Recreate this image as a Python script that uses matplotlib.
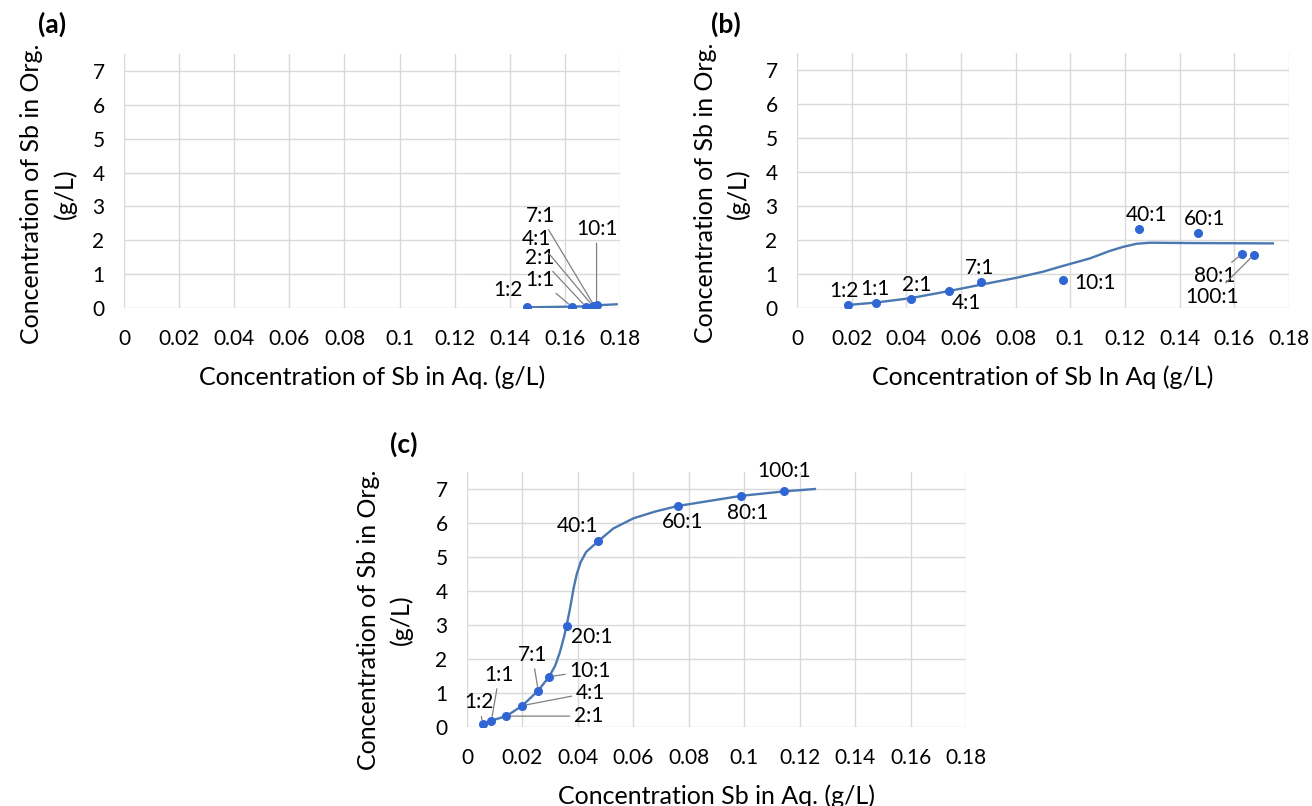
import matplotlib.pyplot as plt
from matplotlib.ticker import FuncFormatter, MultipleLocator

plt.rcParams['font.family'] = ['Lato', 'DejaVu Sans']

# ---- data ----
# (a)
ratios_a = ['1:2', '1:1', '2:1', '4:1', '7:1', '10:1']
aq_a = [0.1463, 0.1625, 0.1676, 0.1701, 0.1706, 0.1715]
org_a = [0.02, 0.04, 0.04, 0.06, 0.07, 0.09]
fit_aq_a = [0.1463, 0.1625, 0.1676, 0.1715, 0.1788]
fit_org_a = [0.02, 0.04, 0.05, 0.08, 0.11]

# (b)
ratios_b = ['1:2', '1:1', '2:1', '4:1', '7:1', '10:1', '40:1', '60:1', '80:1', '100:1']
aq_b = [0.0186, 0.0289, 0.0416, 0.0557, 0.0673, 0.0974, 0.1252, 0.1466, 0.1629, 0.1672]
org_b = [0.09, 0.14, 0.27, 0.50, 0.77, 0.82, 2.31, 2.20, 1.59, 1.57]
fit_aq_b = [0.0188, 0.0289, 0.0416, 0.0557, 0.0682, 0.0804, 0.0901, 0.0974, 0.1072,
            0.1145, 0.1194, 0.1243, 0.1292, 0.1438, 0.1741]
fit_org_b = [0.09, 0.16, 0.29, 0.50, 0.70, 0.89, 1.07, 1.24, 1.46,
             1.68, 1.80, 1.89, 1.92, 1.91, 1.90]

# (c)
ratios_c = ['1:2', '1:1', '2:1', '4:1', '7:1', '10:1', '20:1', '40:1', '60:1', '80:1', '100:1']
aq_c = [0.0057, 0.0088, 0.0142, 0.0200, 0.0257, 0.0296, 0.0359, 0.0474, 0.0760, 0.0990, 0.1144]
org_c = [0.08, 0.19, 0.32, 0.63, 1.07, 1.48, 2.97, 5.47, 6.50, 6.80, 6.93]
fit_aq_c = [0.0057, 0.0088, 0.0142, 0.0200, 0.0257, 0.0296, 0.0318, 0.0335, 0.0350, 0.0359,
            0.0372, 0.0385, 0.0396, 0.0410, 0.0430, 0.0474, 0.0528, 0.0601, 0.0680,
            0.0760, 0.0990, 0.1144, 0.1255]
fit_org_c = [0.08, 0.19, 0.32, 0.63, 1.07, 1.48, 1.80, 2.20, 2.65, 2.97,
             3.50, 4.10, 4.50, 4.85, 5.15, 5.47, 5.84, 6.14, 6.34,
             6.50, 6.80, 6.93, 7.00]

# label placement (pixel offsets from the point, leader line yes/no)
place_a = [(-19, 17, False), (-32, 27, True), (-46, 49, True), (-56, 67, True),
           (-54, 90, True), (0, 76, True)]
place_b = [(-4, 14, False), (-1, 14, False), (6, 14, False), (17, -12, False),
           (-1, 14, False), (32, -3, False), (7, 14, False), (7, 14, False),
           (-28, -22, True), (-42, -42, True)]
place_c = [(-4, 22, True), (8, 46, True), (82, 0, True), (68, 13, True), (-6, 36, True),
           (41, 6, True), (25, -11, False), (-21, 15, False), (5, -16, False),
           (6, -17, False), (0, 20, False)]

W, H = 1312, 806
fig = plt.figure(figsize=(W / 100, H / 100), dpi=100)


def px_axes(l, t, r, b):
    return fig.add_axes([l / W, 1 - b / H, (r - l) / W, (b - t) / H])


line_col = '#4A78B0'
dot_col = '#2F66D3'


def panel(ax, aq, org, fit_aq, fit_org, ratios, place, xlabel, lab_x, lab_y):
    ax.plot(fit_aq, fit_org, color=line_col, lw=1.7, zorder=3)
    ax.plot(aq, org, 'o', color=dot_col, ms=5.5, zorder=4)
    for x, y, r, (dx, dy, lead) in zip(aq, org, ratios, place):
        ax.annotate(r, (x, y), xytext=(dx, dy), textcoords='offset pixels',
                    ha='center', va='center', fontsize=15, zorder=5,
                    arrowprops=dict(arrowstyle='-', color='#808080', lw=0.9,
                                    shrinkA=1, shrinkB=3) if lead else None)
    ax.set_xlim(0, 0.18)
    ax.set_ylim(0, 7.5)
    ax.xaxis.set_major_locator(MultipleLocator(0.02))
    ax.set_yticks(range(8))
    ax.xaxis.set_major_formatter(FuncFormatter(lambda v, _: f'{round(v, 4):g}'))
    ax.grid(True, color='#D9D9D9', lw=1)
    ax.set_axisbelow(True)
    for s in ax.spines.values():
        s.set_visible(False)
    ax.tick_params(length=0, labelsize=15)
    ax.tick_params(axis='x', pad=15)
    ax.tick_params(axis='y', pad=14)
    ax.set_xlabel(xlabel, fontsize=18, labelpad=12)
    ax.set_ylabel('Concentration of Sb in Org.\n(g/L)', fontsize=18, linespacing=1.5)
    ax.yaxis.set_label_coords(lab_x, lab_y)


ax_a = px_axes(124, 54, 620, 308)
panel(ax_a, aq_a, org_a, fit_aq_a, fit_org_a, ratios_a, place_a,
      'Concentration of Sb in Aq. (g/L)', -0.095, 0.45)

ax_b = px_axes(797, 53, 1289, 308)
panel(ax_b, aq_b, org_b, fit_aq_b, fit_org_b, ratios_b, place_b,
      'Concentration of Sb In Aq (g/L)', -0.095, 0.45)

ax_c = px_axes(467, 472, 966, 727)
panel(ax_c, aq_c, org_c, fit_aq_c, fit_org_c, ratios_c, place_c,
      'Concentration Sb in Aq. (g/L)', -0.108, 0.42)

fig.text(52 / W, 1 - 24 / H, '(a)', fontsize=19, fontweight='bold', ha='center', va='center')
fig.text(726 / W, 1 - 24 / H, '(b)', fontsize=19, fontweight='bold', ha='center', va='center')
fig.text(404 / W, 1 - 444 / H, '(c)', fontsize=19, fontweight='bold', ha='center', va='center')

fig.savefig('out.png', dpi=100)
